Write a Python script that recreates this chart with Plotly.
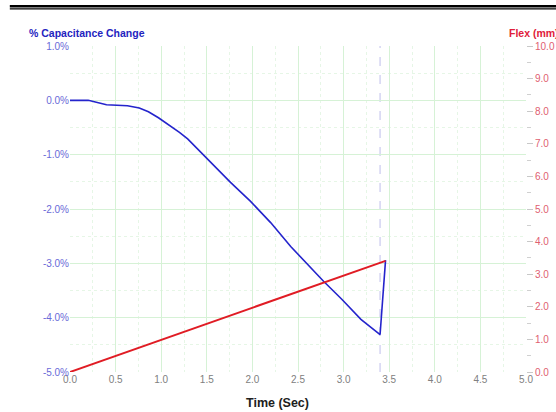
import plotly.graph_objects as go

# Data
time_cap = [0.0, 0.2, 0.4, 0.63, 0.76, 0.86, 0.97, 1.1, 1.2, 1.29, 1.5, 1.76, 1.98, 2.2, 2.42, 2.64, 2.78, 2.98, 3.19, 3.40, 3.46]
cap_change = [0.0, 0.0, -0.08, -0.1, -0.14, -0.21, -0.32, -0.47, -0.59, -0.71, -1.07, -1.51, -1.86, -2.25, -2.69, -3.08, -3.33, -3.66, -4.03, -4.31, -2.94]
time_flex = [0.0, 3.46]
flex_mm = [0.0, 3.41]
marker_time = 3.40

x_ticks = [0.0, 0.5, 1.0, 1.5, 2.0, 2.5, 3.0, 3.5, 4.0, 4.5, 5.0]
y_ticks = [1.0, 0.0, -1.0, -2.0, -3.0, -4.0, -5.0]
y2_ticks = [0, 1, 2, 3, 4, 5, 6, 7, 8, 9, 10]

FONT = "Liberation Sans, Arial, sans-serif"
major_grid = "#d6f2d6"
minor_grid = "#e6f6e6"

fig = go.Figure()
fig.add_trace(go.Scatter(x=time_cap, y=cap_change, mode="lines",
                         line=dict(color="#2424cc", width=1.6), yaxis="y", showlegend=False))
fig.add_trace(go.Scatter(x=time_flex, y=flex_mm, mode="lines",
                         line=dict(color="#e01c24", width=2), yaxis="y2", showlegend=False))

fig.add_shape(type="line", x0=marker_time, x1=marker_time, y0=0, y1=1, xref="x", yref="paper",
              line=dict(color="#d4d4f2", width=1.5, dash="dash"), layer="below")

# top double rule
fig.add_shape(type="line", x0=-0.132, x1=1.1, y0=1.1222, y1=1.1222, xref="paper", yref="paper",
              line=dict(color="black", width=2.5))
fig.add_shape(type="line", x0=-0.132, x1=1.1, y0=1.1141, y1=1.1141, xref="paper", yref="paper",
              line=dict(color="black", width=1.2))

fig.update_layout(
    width=556, height=412,
    margin=dict(l=70, r=30, t=46, b=40, autoexpand=False),
    paper_bgcolor="white", plot_bgcolor="white",
    font=dict(family=FONT, size=10),
    xaxis=dict(range=[0, 5], tickvals=x_ticks, ticktext=[f"{v:.1f}" for v in x_ticks],
               showgrid=True, gridcolor=major_grid, gridwidth=1, zeroline=False, automargin=False,
               showline=False, ticks="", tickfont=dict(color="#808080", size=10),
               minor=dict(dtick=0.25, showgrid=True, gridcolor=minor_grid, griddash="dot")),
    yaxis=dict(range=[-5, 1], tickvals=y_ticks, ticktext=[f"{v:.1f}%" for v in y_ticks],
               showgrid=True, gridcolor=major_grid, zeroline=False, showline=False, ticks="",
               automargin=False, tickfont=dict(color="#6a6ad8", size=10),
               minor=dict(dtick=0.5, showgrid=True, gridcolor=minor_grid, griddash="dot")),
    yaxis2=dict(range=[0, 10], overlaying="y", side="right", tickvals=y2_ticks,
                ticktext=[f"{v:.1f}" for v in y2_ticks], showgrid=False, zeroline=False,
                showline=False, ticks="outside", ticklen=6, tickcolor="#c8c8c8", automargin=False,
                tickfont=dict(color="#e06070", size=10),
                minor=dict(dtick=0.5, ticks="outside", ticklen=4, tickcolor="#d0d0d0")),
    annotations=[
        dict(text="<b>% Capacitance Change</b>", x=-0.094, y=1.04, xref="paper", yref="paper",
             xanchor="left", yanchor="middle", showarrow=False, font=dict(color="#2424c0", size=10.5)),
        dict(text="<b>Flex (mm)</b>", x=0.958, y=1.04, xref="paper", yref="paper",
             xanchor="left", yanchor="middle", showarrow=False, font=dict(color="#e0203a", size=10.5)),
        dict(text="<b>Time (Sec)</b>", x=0.455, y=-0.095, xref="paper", yref="paper",
             xanchor="center", yanchor="middle", showarrow=False, font=dict(color="#202020", size=12.5)),
    ],
)

fig.write_html("out.html", config={"displayModeBar": False},
               post_script="document.body.style.margin='0';")
